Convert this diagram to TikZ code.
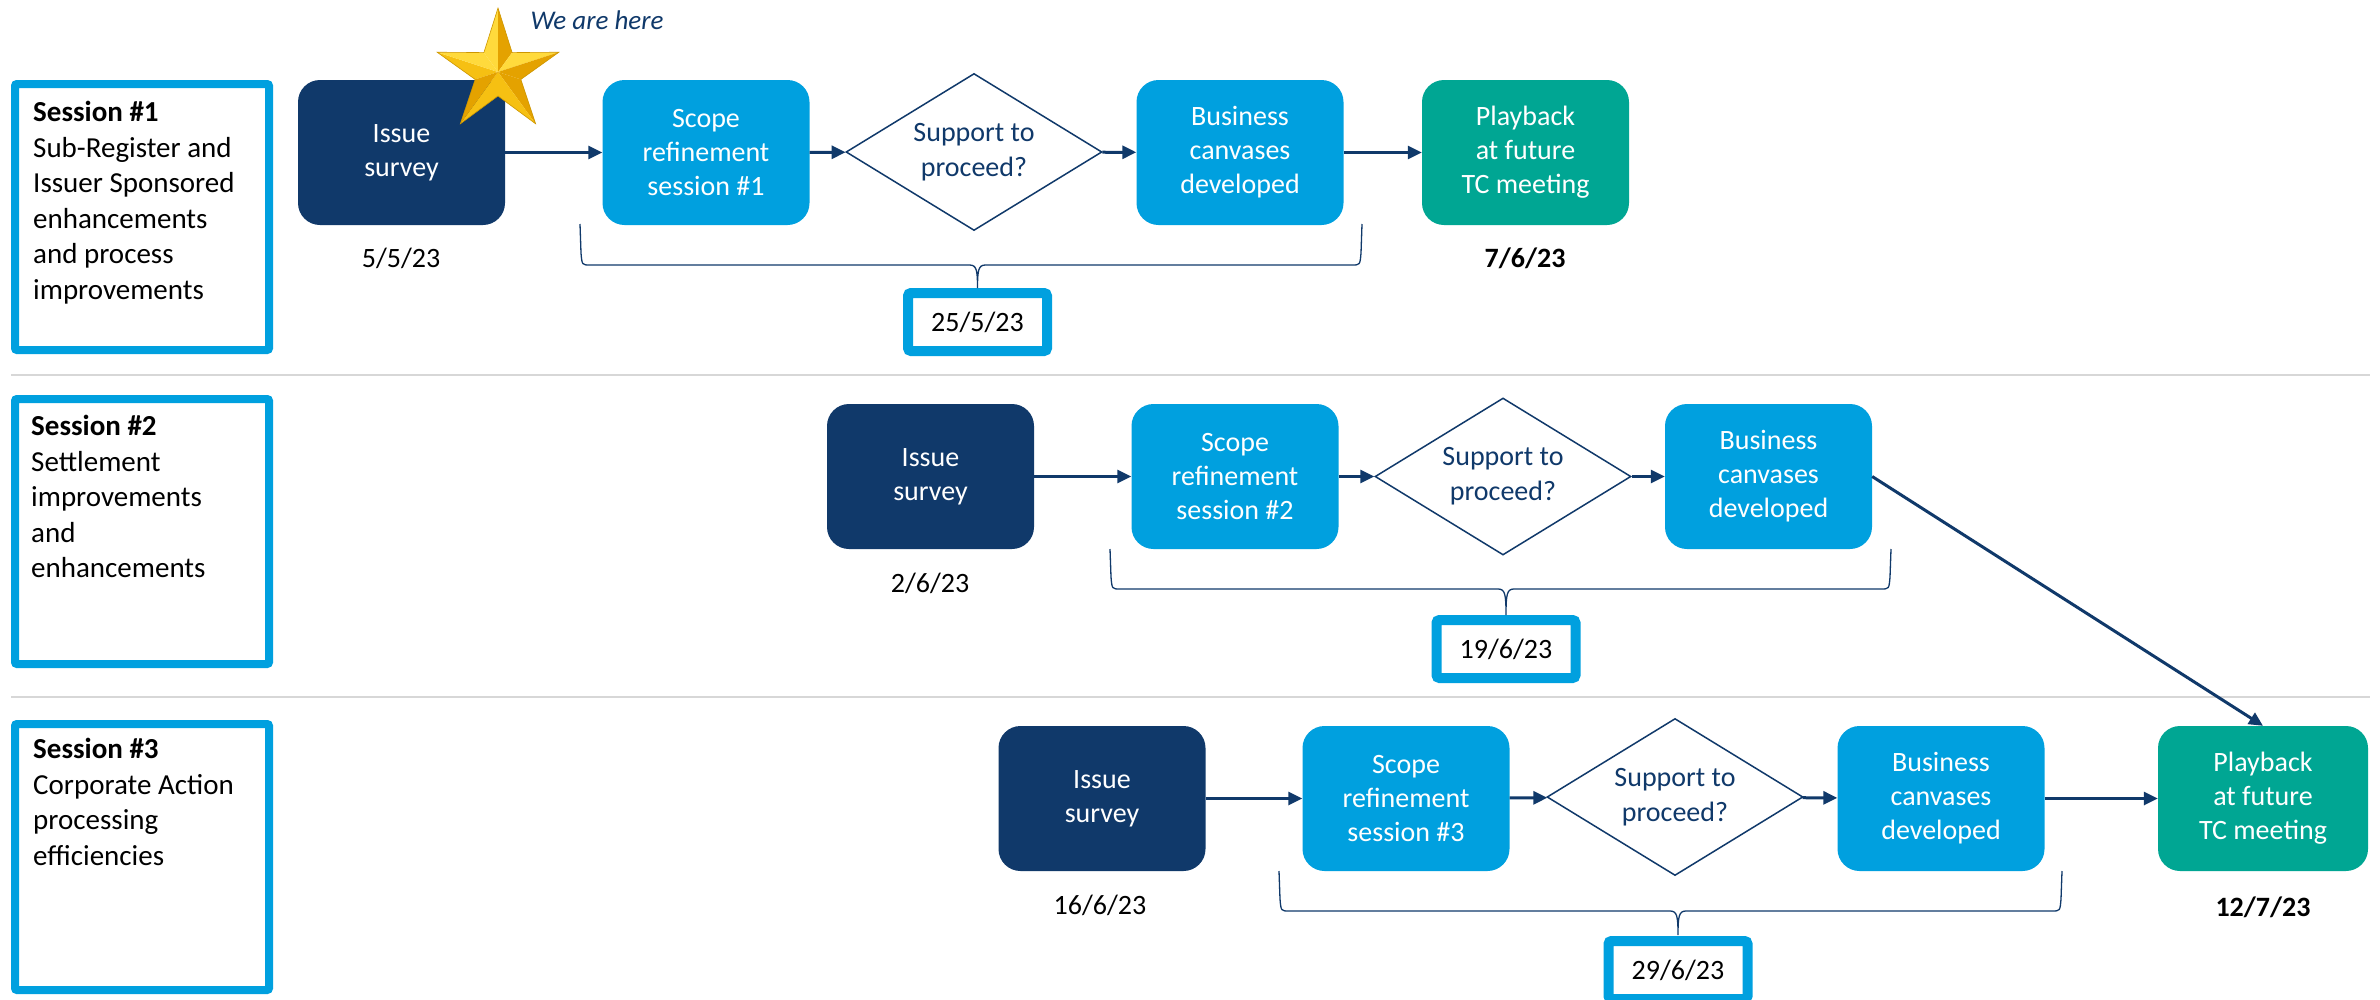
\documentclass[tikz,border=0pt]{standalone}
\usepackage{fontspec}
\setmainfont{Carlito}
\usetikzlibrary{arrows.meta,shapes.geometric}
\definecolor{navy}{RGB}{16,57,106}
\definecolor{lblue}{RGB}{0,160,223}
\definecolor{tealc}{RGB}{0,166,147}
\definecolor{sepc}{RGB}{215,215,215}
\definecolor{goldL}{RGB}{255,218,60}
\definecolor{goldM}{RGB}{246,192,18}
\definecolor{goldD}{RGB}{228,162,0}
\definecolor{goldE}{RGB}{205,150,0}
\newcommand\mybrace[6]{%
  \draw[navy,line width=1.3pt]
    (#1,#3) -- ({#1+1},{#4-12}) .. controls ({#1+2},#4) .. ({#1+10},#4)
    -- ({#5-8},#4) .. controls ({#5-1},#4) and (#5,{#4+5}) .. (#5,#6)
    .. controls (#5,{#4+5}) and ({#5+1},#4) .. ({#5+8},#4)
    -- ({#2-10},#4) .. controls ({#2-2},#4) .. ({#2-1},{#4-12}) -- (#2,#3);}
\newcommand\facet[3]{% outer angle, inner angle, colour
  \fill[#3] (0,0) -- ({64*cos(#1)},{-64*sin(#1)}) -- ({24*cos(#2)},{-24*sin(#2)}) -- cycle;}
\begin{document}
\begin{tikzpicture}[x=1pt,y=-1pt,
  proc/.style={rounded corners=22pt,minimum width=207pt,minimum height=145pt,
    align=center,text=white,inner sep=0pt,font=\fontsize{28}{34}\selectfont},
  darkbox/.style={proc,fill=navy},
  lightbox/.style={proc,fill=lblue},
  greenbox/.style={proc,fill=tealc},
  decide/.style={diamond,draw=navy,line width=1.5pt,fill=white,aspect=1.63,
    minimum width=256pt,minimum height=157pt,inner sep=0pt,text=navy,align=center,
    font=\fontsize{28}{35}\selectfont},
  sessbox/.style={draw=lblue,line width=8pt,rounded corners=2pt,minimum width=254pt,inner sep=0pt},
  sesstext/.style={anchor=north west,inner sep=0pt,align=left,font=\fontsize{29}{35.5}\selectfont},
  datebox/.style={draw=lblue,fill=white,line width=10pt,rounded corners=3pt,
    minimum width=139pt,minimum height=58pt,inner sep=0pt,font=\fontsize{28}{34}\selectfont},
  datetext/.style={anchor=base,inner sep=0pt,font=\fontsize{28}{34}\selectfont},
  flow/.style={-{Triangle[length=14pt,width=13pt]},navy,line width=3pt},
  sepline/.style={sepc,line width=1.5pt}]
\useasboundingbox (0,0) rectangle (2380,999);
\fill[white] (0,0) rectangle (2380,999);

% separators
\draw[sepline] (11,375) -- (2370,375);
\draw[sepline] (11,697) -- (2370,697);

% session boxes
\node[sessbox,minimum height=266pt] (s1) at (142,217) {};
\node[sessbox,minimum height=265pt] (s2) at (142,531.5) {};
\node[sessbox,minimum height=266pt] (s3) at (142,857) {};
\node[sesstext] (t1) at (33,101) {\textbf{Session \#1}\\Sub-Register and\\Issuer Sponsored\\enhancements\\and process\\improvements};
\node[sesstext] (t2) at (31,415) {\textbf{Session \#2}\\Settlement\\improvements\\and\\enhancements};
\node[sesstext] (t3) at (33,738) {\textbf{Session \#3}\\Corporate Action\\processing\\efficiencies};

% row 1
\node[darkbox] (iss1) at (401.5,152.5) {Issue\\survey};
\node[lightbox] (sc1) at (706,152.5) {Scope\\refinement\\session \#1};
\node[decide] (d1) at (974,152) {Support to\\proceed?};
\node[lightbox] (b1) at (1240,152.5) {Business\\canvases\\developed};
\node[greenbox] (p1) at (1525.5,152.5) {Playback\\at future\\TC meeting};
\draw[flow] (iss1) -- (sc1);
\draw[flow] (sc1) -- (d1);
\draw[flow] (d1) -- (b1);
\draw[flow] (b1) -- (p1);
\node[datetext] (dt1a) at (401,267) {5/5/23};
\node[datetext] (dt1b) at (1525,267) {\textbf{7/6/23}};
\node[datebox] (db1) at (977.5,322) {25/5/23};
\mybrace{580}{1362}{224}{265}{977.5}{288}

% row 2
\node[darkbox] (iss2) at (930.5,476.5) {Issue\\survey};
\node[lightbox] (sc2) at (1235,476.5) {Scope\\refinement\\session \#2};
\node[decide] (d2) at (1503,476.5) {Support to\\proceed?};
\node[lightbox] (b2) at (1768.5,476.5) {Business\\canvases\\developed};
\draw[flow] (iss2) -- (sc2);
\draw[flow] (sc2) -- (d2);
\draw[flow] (d2) -- (b2);
\node[datetext] (dt2a) at (930,592) {2/6/23};
\node[datebox] (db2) at (1506,649) {19/6/23};
\mybrace{1110}{1891}{549}{589}{1506}{615}

% row 3
\node[darkbox] (iss3) at (1102,798.5) {Issue\\survey};
\node[lightbox] (sc3) at (1406,798.5) {Scope\\refinement\\session \#3};
\node[decide] (d3) at (1675,797) {Support to\\proceed?};
\node[lightbox] (b3) at (1941,798.5) {Business\\canvases\\developed};
\node[greenbox,minimum width=210pt] (p3) at (2263,798.5) {Playback\\at future\\TC meeting};
\draw[flow] (iss3) -- (sc3);
\draw[flow] (sc3) -- (d3);
\draw[flow] (d3) -- (b3);
\draw[flow] (b3) -- (p3);
\draw[flow] (b2.east) -- (p3.north);
\node[datetext] (dt3a) at (1100,914) {16/6/23};
\node[datetext] (dt3b) at (2263,916) {\textbf{12/7/23}};
\node[datebox] (db3) at (1678,970) {29/6/23};
\mybrace{1279}{2062}{871}{911}{1678}{935}

% star
\begin{scope}[shift={(498,72)}]
  \facet{90}{126}{goldL}
  \facet{90}{54}{goldD}
  \facet{162}{198}{goldM}
  \facet{162}{126}{goldL}
  \facet{234}{270}{goldM}
  \facet{234}{198}{goldD}
  \facet{306}{342}{goldD}
  \facet{306}{270}{goldM}
  \facet{18}{54}{goldL}
  \facet{18}{-18}{goldD}
  \draw[goldE,line width=0.6pt]
    (0,-64) \foreach \k in {0,...,4}{ -- ({24*cos(126+72*\k)},{-24*sin(126+72*\k)}) -- ({64*cos(162+72*\k)},{-64*sin(162+72*\k)}) } -- cycle;
\end{scope}
\node[anchor=base,inner sep=0pt,text=navy,font=\fontsize{27}{32}\selectfont\itshape] (here) at (597,29) {We are here};
\end{tikzpicture}
\end{document}
